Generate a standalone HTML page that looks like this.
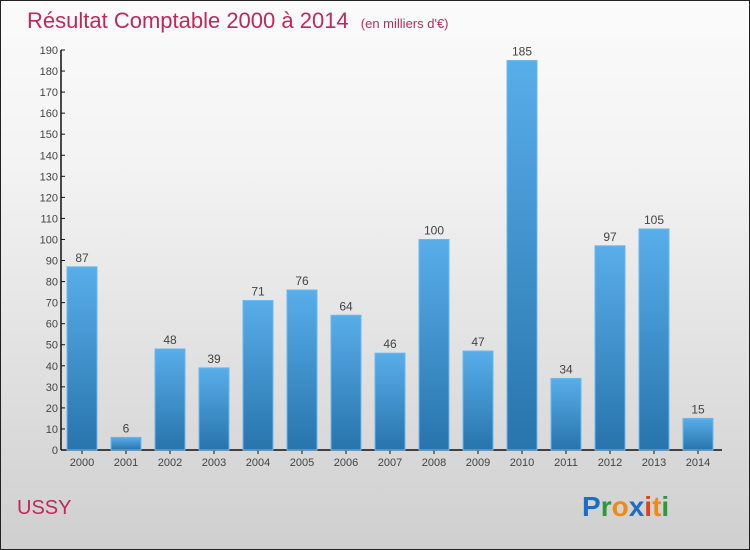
<!DOCTYPE html>
<html><head><meta charset="utf-8"><style>
body{margin:0}
#c{position:relative;width:748px;height:548px;border:1px solid #222;background:linear-gradient(#fbfbfb,#f3f3f3 30%,#dcdcdc 75%,#cfcfcf);font-family:"Liberation Sans",sans-serif;overflow:hidden}
</style></head><body>
<div id="c">
<svg width="748" height="548">
<defs><linearGradient id="g" x1="0" y1="0" x2="0" y2="1"><stop offset="0" stop-color="#58aee9"/><stop offset="1" stop-color="#2874ad"/></linearGradient></defs>
<text x="26" y="27" font-size="22" fill="#c0285a">Résultat Comptable 2000 à 2014 <tspan font-size="13" dx="6">(en milliers d'€)</tspan></text>
<g id="axes"></g><g id="bars"></g>
<text x="16" y="513" font-size="20" fill="#c0285a">USSY</text>
<text x="581" y="515" font-size="28" font-weight="bold"><tspan fill="#1a6fc4">P</tspan><tspan fill="#2a9a3a">r</tspan><tspan fill="#f08a10">o</tspan><tspan fill="#1a6fc4">x</tspan><tspan fill="#e04020">i</tspan><tspan fill="#f08a10">t</tspan><tspan fill="#2a9a3a">i</tspan></text>
</svg></div>
<script>
const years=["2000","2001","2002","2003","2004","2005","2006","2007","2008","2009","2010","2011","2012","2013","2014"];
const values=[87,6,48,39,71,76,64,46,100,47,185,34,97,105,15];
const yTicks=[0,10,20,30,40,50,60,70,80,90,100,110,120,130,140,150,160,170,180,190];
const NS="http://www.w3.org/2000/svg";
const y0=449,yMax=190,ph=400;
function ys(v){return y0-v*ph/yMax}
function xs(i){return 81+i*44}
function mk(t,a,p){const e=document.createElementNS(NS,t);for(const k in a)e.setAttribute(k,a[k]);p.appendChild(e);return e}
const ax=document.getElementById('axes'),bg=document.getElementById('bars');
const yl=mk('line',{x1:60,x2:60,y1:ys(190),y2:y0,stroke:'#111','stroke-width':1.5},ax);


const xl=mk('line',{x1:60,x2:721,y1:y0,y2:y0,stroke:'#111','stroke-width':1.5},ax);


yTicks.forEach(v=>{
 mk('line',{x1:60,x2:64,y1:ys(v),y2:ys(v),stroke:'#111'},ax);
 const t=mk('text',{x:57,y:ys(v)+4,'font-size':11,fill:'#444','text-anchor':'end'},ax);t.textContent=v;
 
 
});
years.forEach((yr,i)=>{
 const v=values[i],x=xs(i);
 const r=mk('rect',{x:x-15,y:ys(v),width:30,height:y0-ys(v),fill:'url(#g)',stroke:'#6bb8ee','stroke-width':1},bg);
 
 
 const l=mk('text',{x:x,y:ys(v)-5,'font-size':12,fill:'#444','text-anchor':'middle'},bg);l.textContent=v;
 
 
 mk('line',{x1:x,x2:x,y1:y0,y2:y0+4,stroke:'#111'},ax);
 const xt=mk('text',{x:x,y:y0+16,'font-size':11,fill:'#444','text-anchor':'middle'},ax);xt.textContent=yr;
 
 
});
</script>
</body></html>
